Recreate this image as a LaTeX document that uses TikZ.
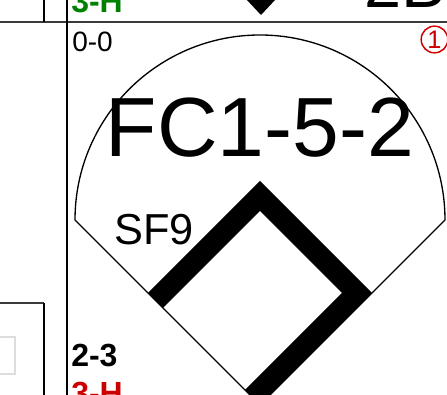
\documentclass[tikz,border=0pt]{standalone}
\usepackage{fontspec}
\setmainfont{Liberation Sans}
\usepackage{tikz}
\definecolor{cardgreen}{HTML}{008000}
\definecolor{cardred}{HTML}{CC0000}
\definecolor{cardrule}{HTML}{3A3A3A}
\definecolor{cardfaint}{HTML}{DDDDDD}

\begin{document}
\begin{tikzpicture}[
  x=0.75pt, y=0.75pt,
  rule/.style={line width=1.5pt, draw=cardrule},
  divider/.style={line width=1.5pt, draw=black},
  fieldline/.style={line width=1pt, draw=black},
  band/.style={fill=black, draw=none},
  count/.style={anchor=base west, inner sep=0pt, font=\fontsize{21}{21}\selectfont},
  result/.style={anchor=base west, inner sep=0pt, font=\fontsize{24}{24}\selectfont\bfseries},
  play/.style={inner sep=0pt, font=\fontsize{63}{63}\selectfont},
  inning/.style={circle, draw=cardred, line width=1.1pt, minimum size=20pt, inner sep=0pt, text=cardred, font=\fontsize{19}{19}\selectfont}
]
  \useasboundingbox (0,0) rectangle (447,395);
  \clip (0,0) rectangle (447,395);

  % Grid of the score card
  \draw[rule] (0,372.5) -- (447,372.5);
  \draw[divider] (67,396) -- (67,-1);
  \draw[divider] (44,396) -- (44,372.5);
  \draw[rule] (-5,92) -- (44,92);
  \draw[divider] (44,92) -- (44,-5);
  \draw[line width=1.5pt, draw=cardfaint] (-10,58) rectangle (15,21);

  % Cell above: end of its run line and labels
  \fill (246,396) -- (276,396) -- (261,380) -- cycle;
  \node[result, text=cardgreen] (prevres) at (71,382) {3-H};
  \node[play, anchor=base west, font=\fontsize{50}{50}\selectfont] (prevhit) at (364,387) {2B};

  % Field
  \coordinate (lf) at (75,175);
  \coordinate (rf) at (445,175);
  \coordinate (home) at (260,-10);
  \draw[fieldline] (lf) arc[start angle=180, end angle=0, radius=185] -- (home) -- cycle;

  % Runner path 3B - 2B - 1B - home
  \coordinate (third) at (148,102);
  \coordinate (second) at (260,214);
  \coordinate (first) at (372,102);
  \fill[band] (third) -- (second) -- (first) -- (home) -- (245,5)
    -- (342,102) -- (260,184) -- (163,87) -- cycle;

  % Labels
  \node[count] (balls) at (72,343) {0-0};
  \node[inning] (out) at (434.5,355.5) {1};
  \node[play, anchor=base] (fc) at (260,238) {FC1-5-2};
  \node[play, anchor=base west, font=\fontsize{32.5}{33}\selectfont] (sf) at (114,150) {SF9};
  \node[result] (pitches) at (71,28) {2-3};
  \node[result, text=cardred] (res) at (71,-10) {3-H};
\end{tikzpicture}
\end{document}
